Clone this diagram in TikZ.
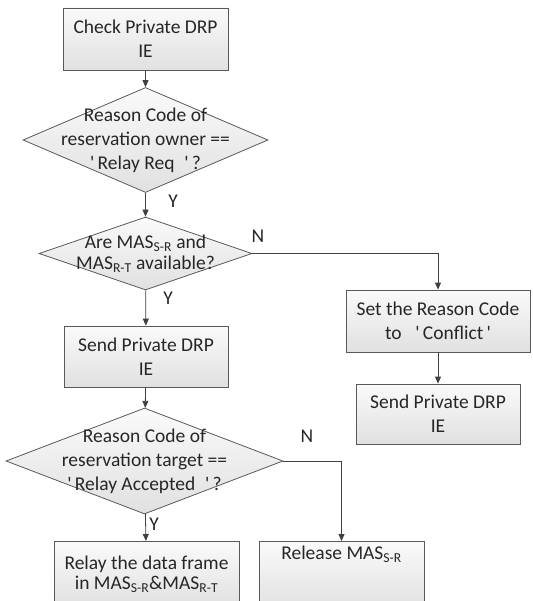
\documentclass[tikz,border=0pt]{standalone}
\usepackage{fontspec}
\setmainfont{Carlito}
\usetikzlibrary{shapes.geometric,shadows,arrows.meta}

\newcommand{\MAS}[1]{MAS\textsubscript{#1}}
\newcommand{\qm}{\textquotesingle}

\begin{document}
\begin{tikzpicture}[x=1pt,y=-1pt,
	>={Triangle[length=7pt,width=6pt]},
	every node/.style={font=\fontsize{19.5}{24}\selectfont, text=black!85},
	procbox/.style={draw=black!65, line width=0.8pt, top color=black!2, bottom color=black!12,
			drop shadow={opacity=.25,shadow xshift=1.2pt,shadow yshift=-1.2pt},
			align=center, inner sep=0pt, minimum height=62pt},
	decision/.style={draw=black!65, line width=0.8pt, diamond, top color=black!2, bottom color=black!12,
			inner sep=0pt},
	flow/.style={draw=black!75, line width=0.8pt, ->},
	yn/.style={inner sep=1pt}]

\pgfmathsetmacro{\colx}{145.5}
\pgfmathsetmacro{\rightx}{438}

\useasboundingbox (0,0) rectangle (532,601);

% LEFT COLUMN
\node (check) [procbox, minimum width=165pt] at (\colx,39) {Check Private DRP\\IE};

%owner decision
\node (owner) [decision, minimum width=245pt, minimum height=105pt] at (\colx,140) {};
\node (owner-t) [align=center] at (owner.center)
	{Reason Code of\\reservation owner ==\\\qm\,Relay Req\hspace{0.5em}\qm\,?};

%mas decision
\node (avail) [decision, minimum width=213pt, minimum height=73pt] at (\colx,253.5) {};
\node (avail-t) [align=center, font=\fontsize{19.5}{21}\selectfont] at (avail.center)
	{Are \MAS{S-R} and\\\MAS{R-T} available?};

\node (send) [procbox, minimum width=164pt, minimum height=61pt] at (146,356.5) {Send Private DRP\\IE};

%target decision
\node (target) [decision, minimum width=277pt, minimum height=106pt] at (144.5,461) {};
\node (target-t) [align=center] at (target.center)
	{Reason Code of\\reservation target ==\\\qm\,Relay Accepted\hspace{0.5em}\qm\,?};

\node (relay) [procbox, anchor=north, minimum width=185pt, minimum height=66pt,
	font=\fontsize{19.5}{20}\selectfont] at (146.5,541) {Relay the data frame\\in \MAS{S-R}\&\MAS{R-T}};
\node (release) [procbox, anchor=north, minimum width=165pt, minimum height=0pt,
	text height=13pt, text depth=46pt, inner ysep=5pt] at (341.5,541) {Release \MAS{S-R}};

% RIGHT COLUMN
\node (conflict) [procbox, minimum width=184pt] at (\rightx,321)
	{Set the Reason Code\\to\hspace{0.7em}\qm\,Conflict\,\qm};
\node (sendR) [procbox, minimum width=164pt, minimum height=60pt] at (\rightx,414) {Send Private DRP\\IE};

% CONNECTORS
\draw[flow] (check) -- (owner);
\draw[flow] (owner) -- (avail);
\draw[flow] (avail) -- (send);
\draw[flow] (avail.east) -| (conflict.north);
\draw[flow] (conflict) -- (sendR);
\draw[flow] (send) -- (target);
\draw[flow] (target) -- (relay);
\draw[flow] (target.east) -| (release.north);

% LABELS
\node (y1) [yn] at (173,201) {Y};
\node (n1) [yn] at (258,236) {N};
\node (y2) [yn] at (168,298) {Y};
\node (n2) [yn] at (307,436) {N};
\node (y3) [yn] at (154,524) {Y};

\end{tikzpicture}
\end{document}
